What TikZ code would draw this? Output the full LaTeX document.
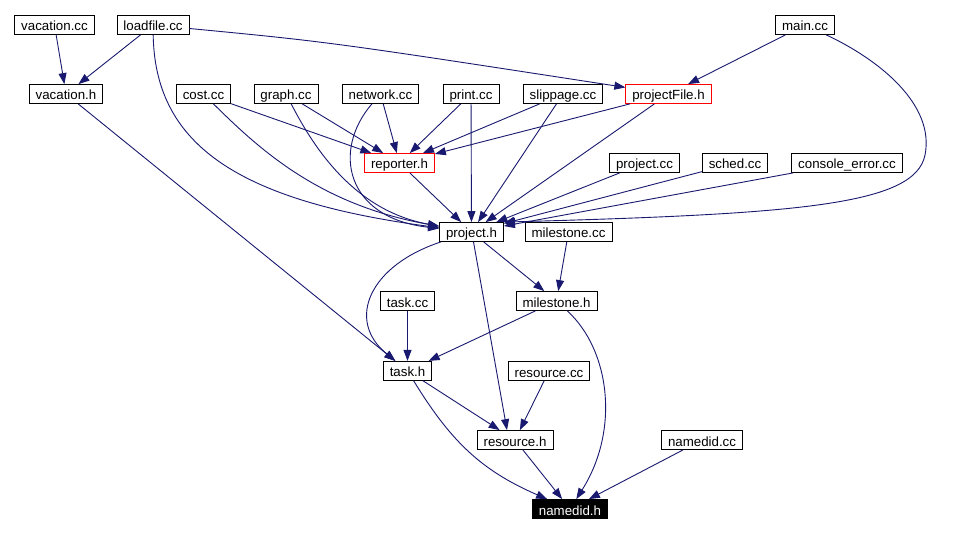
\documentclass[tikz,border=0pt]{standalone}
\usepackage{fontspec}
\setmainfont{Liberation Sans}
\usepackage{xcolor}
\usepackage{tikz}
\usetikzlibrary{arrows.meta, positioning}

\definecolor{edgeblue}{RGB}{25,25,112}

\begin{document}
\begin{tikzpicture}[
    x=1pt, y=-1pt,
    file/.style={rectangle, draw, line width=0.8pt, fill=white, minimum height=19pt, inner xsep=6.5pt, inner ysep=3pt, text height=12.5pt, text depth=0.5pt, font=\fontsize{13.3}{15}\selectfont},
    hdr/.style={file, draw=red},
    cur/.style={file, draw=black, fill=black, text=white},
    arr/.style={-{Triangle[length=11pt, width=8pt]}, draw=edgeblue, line width=0.9pt},
]
    \path[fill=white] (0,0) rectangle (973,534);
    \useasboundingbox (0,0) rectangle (973,534);

    % top row
    \node[file] (vacationcc) at (54.5,25) {vacation.cc};
    \node[file] (loadfilecc) at (153,25) {loadfile.cc};
    \node[file] (maincc) at (805,25) {main.cc};

    % second row
    \node[file] (vacationh) at (66,94) {vacation.h};
    \node[file] (costcc) at (203.5,94) {cost.cc};
    \node[file] (graphcc) at (286,94) {graph.cc};
    \node[file] (networkcc) at (380.5,94) {network.cc};
    \node[file] (printcc) at (471,94) {print.cc};
    \node[file] (slippagecc) at (563,94) {slippage.cc};
    \node[hdr] (projectfileh) at (668.5,94) {projectFile.h};

    % third row
    \node[hdr] (reporterh) at (399.5,163) {reporter.h};
    \node[file] (projectcc) at (644.5,163) {project.cc};
    \node[file] (schedcc) at (735,163) {sched.cc};
    \node[file] (consolecc) at (847,163) {console\_error.cc};

    % project and below
    \node[file] (projecth) at (471.5,232) {project.h};
    \node[file] (milestonecc) at (568.5,232) {milestone.cc};
    \node[file] (taskcc) at (407.5,301) {task.cc};
    \node[file] (milestoneh) at (556.5,301) {milestone.h};
    \node[file, below=50pt of taskcc] (taskh) {task.h};
    \node[file] (resourcecc) at (549,371) {resource.cc};
    \node[file] (resourceh) at (515,440) {resource.h};
    \node[file] (namedidcc) at (702,440) {namedid.cc};
    \node[cur] (namedidh) at (570,509) {namedid.h};

    % includes from the top row
    \draw[arr] (vacationcc) -- (vacationh);
    \draw[arr] (loadfilecc) -- (vacationh);
    \draw[arr] (loadfilecc) .. controls (330,42) .. (projectfileh);
    \draw[arr] (loadfilecc) .. controls (155,140) and (230,200) .. (projecth);
    \draw[arr] (maincc) -- (projectfileh);
    \draw[arr] (maincc) .. controls (880,60) and (935,105) .. (925,155)
        .. controls (915,205) and (800,214) .. (projecth.north east);

    % into reporter.h
    \draw[arr] (costcc) -- (reporterh);
    \draw[arr] (graphcc) -- (reporterh);
    \draw[arr] (networkcc) -- (reporterh);
    \draw[arr] (printcc) -- (reporterh);
    \draw[arr] (slippagecc) -- (reporterh);
    \draw[arr] (projectfileh) -- (reporterh);

    % into project.h
    \draw[arr] (costcc) .. controls (260,150) and (320,205) .. (projecth);
    \draw[arr] (graphcc) .. controls (310,140) and (350,210) .. (projecth);
    \draw[arr] (networkcc) .. controls (332,150) and (345,218) .. (projecth);
    \draw[arr] (printcc) -- (projecth);
    \draw[arr] (slippagecc) -- (projecth);
    \draw[arr] (projectfileh) -- (projecth);
    \draw[arr] (reporterh) -- (projecth);
    \draw[arr] (projectcc) -- (projecth);
    \draw[arr] (schedcc) -- (projecth);
    \draw[arr] (consolecc) -- (projecth);

    % lower part
    \draw[arr] (vacationh) -- (taskh);
    \draw[arr] (projecth) .. controls (370,265) and (345,320) .. (taskh);
    \draw[arr] (projecth) -- (milestoneh);
    \draw[arr] ([xshift=2pt]projecth.south) -- ([xshift=-8pt]resourceh.north);
    \draw[arr] (milestonecc) -- (milestoneh);
    \draw[arr] (taskcc) -- (taskh);
    \draw[arr] (milestoneh) -- (taskh);
    \draw[arr] (milestoneh) .. controls (610,350) and (620,430) .. (namedidh);
    \draw[arr] (taskh) -- (resourceh);
    \draw[arr] (taskh) .. controls (450,440) and (480,470) .. (namedidh);
    \draw[arr] (resourcecc) -- (resourceh);
    \draw[arr] (resourceh) -- (namedidh);
    \draw[arr] (namedidcc) -- (namedidh);
\end{tikzpicture}
\end{document}
